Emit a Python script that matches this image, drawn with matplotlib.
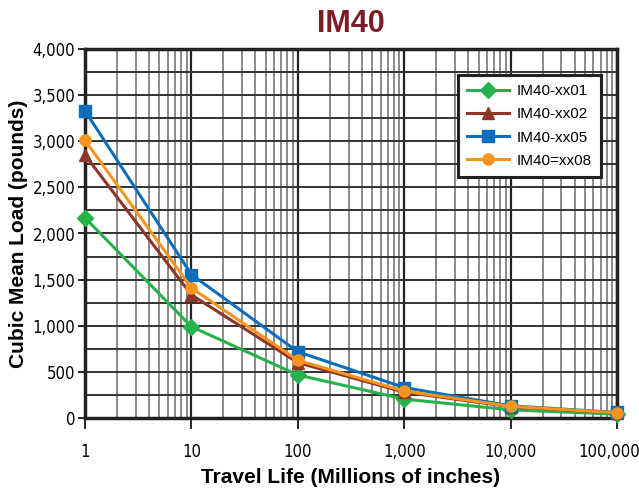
import numpy as np
import matplotlib.pyplot as plt
import matplotlib.transforms as mtransforms
from matplotlib.ticker import FixedLocator, FuncFormatter, LogLocator, NullFormatter

plt.rcParams['font.family'] = ['Liberation Sans', 'DejaVu Sans']

# travel life (millions of inches)
life = [1, 10, 100, 1000, 10000, 100000]

# cubic mean load (pounds)
load_xx01 = [2170, 990, 466, 205, 88, 42]
load_xx02 = [2850, 1335, 600, 280, 122, 55]
load_xx05 = [3330, 1555, 718, 330, 132, 60]
load_xx08 = [3010, 1410, 625, 292, 126, 57]

series = [
    ('IM40-xx01', load_xx01, '#26b24b', 'D', 8),
    ('IM40-xx02', load_xx02, '#8e3528', '^', 9),
    ('IM40-xx05', load_xx05, '#0b6dbb', 's', 8),
    ('IM40=xx08', load_xx08, '#f7941d', 'o', 8),
]

fig = plt.figure(figsize=(6.39, 4.9), dpi=100)
ax = fig.add_axes([85/639, 1 - 418/490, (617-85)/639, (418-49)/490])

for name, vals, col, mk, ms in series:
    ax.plot(life, vals, color=col, lw=2.2, marker=mk, markersize=ms,
            label=name, zorder=3, clip_on=False)

ax.set_xscale('log')
ax.set_xlim(1, 100000)
ax.set_ylim(0, 4000)

ax.xaxis.set_major_locator(FixedLocator(life))
ax.xaxis.set_minor_locator(LogLocator(base=10, subs=np.arange(2, 10), numticks=20))
ax.xaxis.set_major_formatter(FuncFormatter(lambda v, p: '{:,.0f}'.format(v)))
ax.xaxis.set_minor_formatter(NullFormatter())
ax.yaxis.set_major_locator(FixedLocator(np.arange(0, 4001, 500)))
ax.yaxis.set_minor_locator(FixedLocator(np.arange(250, 4000, 500)))
ax.yaxis.set_major_formatter(FuncFormatter(lambda v, p: '{:,.0f}'.format(v)))

ax.grid(True, which='major', axis='x', color='#222222', lw=1.6)
ax.grid(True, which='minor', axis='x', color='#8a8a8a', lw=1.4)
ax.grid(True, which='both', axis='y', color='#333333', lw=1.4)
ax.set_axisbelow(True)

for s in ax.spines.values():
    s.set_color('#222222')
    s.set_linewidth(2.5)

ax.tick_params(axis='x', which='major', length=8, width=1.2, pad=10, labelsize=12)
ax.tick_params(axis='x', which='minor', length=0)
ax.tick_params(axis='y', which='major', length=5, width=1.2, pad=2, labelsize=12)
ax.tick_params(axis='y', which='minor', length=0)

ax.set_xlabel('Travel Life (Millions of inches)', fontsize=15, fontweight='bold', labelpad=5)
ax.set_ylabel('Cubic Mean Load (pounds)', fontsize=15, fontweight='bold', labelpad=3)
ax.set_title('IM40', fontsize=22, fontweight='bold', color='#7b1c26', pad=12)

leg = ax.legend(loc='upper right', bbox_to_anchor=(0.985, 0.95), fontsize=11,
                frameon=True, fancybox=False, edgecolor='#222222',
                handlelength=2.8, handletextpad=0.5, borderpad=0.6, labelspacing=0.6)
leg.get_frame().set_linewidth(2.2)
leg.get_frame().set_alpha(1)

fig.canvas.draw()
for lbl in ax.get_xticklabels() + ax.get_yticklabels():
    lbl.set_family(['DejaVu Sans', 'Liberation Sans'])
    lbl.set_fontstretch('condensed')
last = ax.xaxis.get_major_ticks()[-1].label1
last.set_transform(last.get_transform() +
                   mtransforms.ScaledTranslation(-0.08, 0, fig.dpi_scale_trans))

fig.savefig('out.png', dpi=100)
